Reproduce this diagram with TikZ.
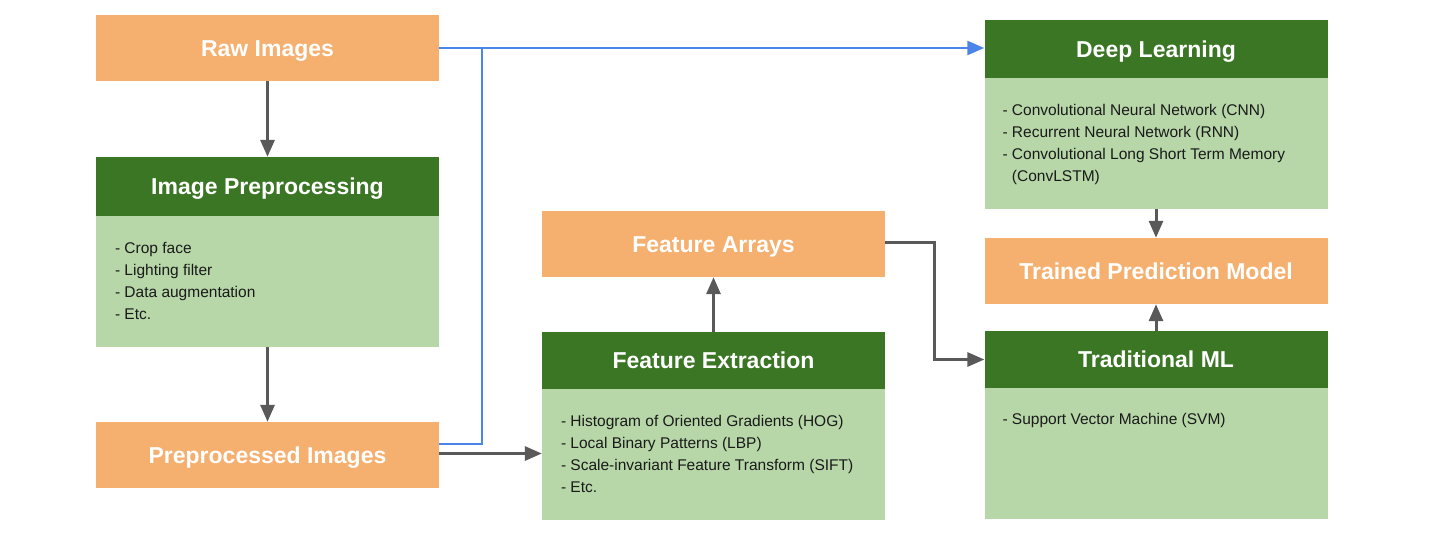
\documentclass[tikz,border=0pt]{standalone}
\usepackage{fontspec}
\setmainfont{Liberation Sans}
\usetikzlibrary{arrows.meta}
\definecolor{orangeC}{HTML}{F5B06F}
\definecolor{darkgreenC}{HTML}{3A7624}
\definecolor{lightgreenC}{HTML}{B7D7A8}
\definecolor{greyC}{HTML}{595959}
\definecolor{blueC}{HTML}{4A86E8}
\definecolor{textC}{HTML}{1A1A1A}
\tikzset{
  box/.style={rectangle, inner sep=0pt, minimum width=343pt},
  titletext/.style={text=white, font=\fontsize{23}{27}\selectfont\bfseries, text height=16.5pt, text depth=0pt},
  orangebox/.style={box, fill=orangeC, minimum height=66pt, titletext},
  headbox/.style={box, fill=darkgreenC, titletext},
  bodybox/.style={box, fill=lightgreenC, minimum height=131pt},
  listtext/.style={anchor=north west, inner sep=0pt, align=left, text=textC, font=\fontsize{15.5}{22}\selectfont},
  greyarrow/.style={draw=greyC, line width=3pt, -{Triangle[length=17pt,width=14pt]}},
  bluearrow/.style={draw=blueC, line width=2.5pt, -{Triangle[length=17pt,width=14pt]}},
}
\begin{document}
\begin{tikzpicture}[x=1pt, y=-1pt]
\useasboundingbox (0,0) rectangle (1439,537);
% left column
\node[orangebox] (raw) at (267.5,48) {Raw Images};
\node[headbox, minimum height=59pt] (iph) at (267.5,186.5) {Image Preprocessing};
\node[bodybox] (ipb) at (267.5,281.5) {};
\node[orangebox] (pre) at (267.5,455) {Preprocessed Images};
% middle column
\node[orangebox] (fa) at (713.5,244) {Feature Arrays};
\node[headbox, minimum height=57pt] (feh) at (713.5,360.5) {Feature Extraction};
\node[bodybox] (feb) at (713.5,454.5) {};
% right column
\node[headbox, minimum height=58pt] (dlh) at (1156,49) {Deep Learning};
\node[bodybox] (dlb) at (1156,143.5) {};
\node[orangebox] (tpm) at (1156,271) {Trained Prediction Model};
\node[headbox, minimum height=57pt] (tmlh) at (1156,359.5) {Traditional ML};
\node[bodybox] (tmlb) at (1156,453.5) {};
% lists
\node[listtext] (ipl) at ([shift={(19,26)}]ipb.north west) {- Crop face\\- Lighting filter\\- Data augmentation\\- Etc.};
\node[listtext] (fel) at ([shift={(19,26)}]feb.north west) {- Histogram of Oriented Gradients (HOG)\\- Local Binary Patterns (LBP)\\- Scale-invariant Feature Transform (SIFT)\\- Etc.};
\node[listtext] (dll) at ([shift={(18,26)}]dlb.north west) {- Convolutional Neural Network (CNN)\\- Recurrent Neural Network (RNN)\\- Convolutional Long Short Term Memory\\\phantom{- }(ConvLSTM)};
\node[listtext] (tmll) at ([shift={(18,25)}]tmlb.north west) {- Support Vector Machine (SVM)};
% connectors
\coordinate (bend1) at (482,444);
\coordinate (bend2) at (934.5,243);
\draw[greyarrow] (raw.south) -- (iph.north);
\draw[greyarrow] (ipb.south) -- (pre.north);
\draw[bluearrow] (raw.east) -- (raw.east -| dlh.west);
\draw[draw=blueC, line width=2.5pt] (pre.east |- bend1) -- (bend1) -- (bend1 |- raw.east);
\draw[greyarrow] ([yshift=1.5pt]pre.east) -- ([yshift=1.5pt]pre.east -| feb.west);
\draw[greyarrow] (feh.north) -- (fa.south);
\draw[greyarrow] (fa.east |- bend2) -- (bend2) -- (bend2 |- tmlh.west) -- (tmlh.west);
\draw[greyarrow] (dlb.south) -- (tpm.north);
\draw[greyarrow] (tmlh.north) -- (tpm.south);
\end{tikzpicture}
\end{document}
